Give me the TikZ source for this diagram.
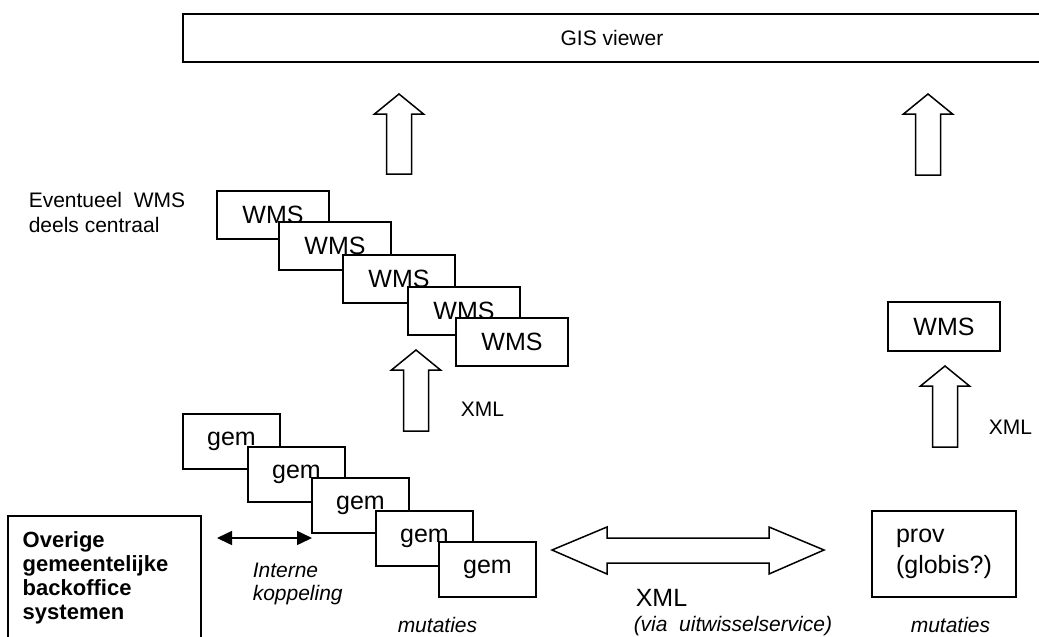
\documentclass[tikz,border=0pt]{standalone}
\usepackage{fontspec}
\setmainfont{Liberation Sans}
\usetikzlibrary{arrows.meta}
\begin{document}
\begin{tikzpicture}[x=1pt,y=-1pt,
  line width=1.5pt,
  box/.style={draw,fill=white,inner sep=0pt,font=\fontsize{25}{30}\selectfont},
  wmsbox/.style={box,minimum width=112pt,minimum height=48pt},
  gembox/.style={box,minimum width=97pt,minimum height=55pt},
  lbl/.style={inner sep=0pt,align=left,font=\fontsize{21}{25}\selectfont},
  ilbl/.style={lbl,font=\fontsize{21}{23}\selectfont\itshape},
  biglbl/.style={inner sep=0pt,align=left,font=\fontsize{25}{31}\selectfont},
  pics/uparrow/.style={code={
    \draw[fill=white] (0,0) -- (24.5,20) -- (12.5,20) -- (12.5,#1)
      -- (-12.5,#1) -- (-12.5,20) -- (-24.5,20) -- cycle;}},
]
\useasboundingbox (0,0) rectangle (1039,637);
\clip (0,0) rectangle (1039,637);

% viewer bar across the top
\node[box,minimum width=858pt,minimum height=48pt,font=\fontsize{21}{25}\selectfont]
  (gis) at (612,38) {GIS viewer};

% block arrows up into the viewer
\pic at (399,94) {uparrow=80};
\pic at (928,94) {uparrow=81};

% cascade of WMS services
\node[lbl,anchor=north west] (evt) at (28,192) {Eventueel\ \ WMS\\deels centraal};
\node[wmsbox] (w1) at (273,215) {WMS};
\node[wmsbox] (w2) at (335,246) {WMS};
\node[wmsbox] (w3) at (399,279) {WMS};
\node[wmsbox] (w4) at (464,311) {WMS};
\node[wmsbox] (w5) at (512,342) {WMS};

% XML feed into the WMS cascade
\pic at (416,350) {uparrow=81};
\node[lbl,anchor=west] (xml1) at (460,409) {XML};

% cascade of municipal systems
\node[gembox] (g1) at (231.5,441.5) {gem};
\node[gembox] (g2) at (296.5,474.5) {gem};
\node[gembox] (g3) at (360.5,505.5) {gem};
\node[gembox] (g4) at (424.5,538.5) {gem};
\node[gembox] (g5) at (487.5,569.5) {gem};
\node[ilbl,anchor=west] (mut1) at (397,625) {mutaties};

% other back office systems
\node[draw,inner sep=0pt,minimum width=193pt,minimum height=150pt,anchor=north west]
  (ovr) at (7,515) {};
\node[inner sep=0pt,align=left,anchor=north west,
      font=\fontsize{22}{24}\selectfont\bfseries] (ovrt) at (22,531)
  {Overige\\gemeentelijke\\backoffice\\systemen};

% internal coupling
\coordinate (kl) at (217,538);
\coordinate (kr) at (312,538);
\draw[{Triangle[length=15pt,width=14pt]}-{Triangle[length=15pt,width=14pt]}] (kl) -- (kr);
\node[ilbl,anchor=north west] (intk) at (252,562) {Interne\\koppeling};

% exchange between municipality and province
\coordinate (xl) at (552,550);
\coordinate (xr) at (824,550);
\draw[fill=white] (xl) -- (607,527) -- (607,538) -- (769,538) -- (769,527) -- (xr)
  -- (769,574) -- (769,563) -- (607,563) -- (607,574) -- cycle;
\node[biglbl,anchor=west] (xml2) at (635,598) {XML};
\node[ilbl,anchor=west] (via) at (633,626) {(via\ \ uitwisselservice)};

% province side
\node[box,align=left,minimum width=144pt,minimum height=86pt,
      font=\fontsize{25}{31}\selectfont] (prov) at (944,554) {prov\\(globis?)};
\node[ilbl,anchor=west] (mut2) at (910,625) {mutaties};
\pic at (945,366) {uparrow=81};
\node[lbl,anchor=west] (xml3) at (988,427) {XML};
\node[wmsbox,minimum height=49pt] (wr) at (944,326.5) {WMS};
\end{tikzpicture}
\end{document}
